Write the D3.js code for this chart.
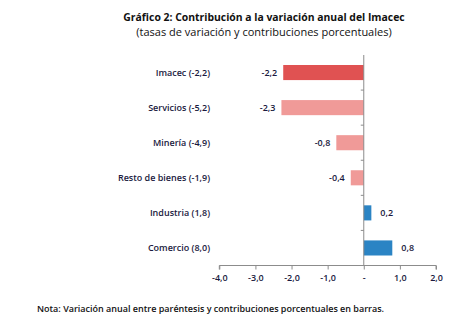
<!DOCTYPE html>
<html>
<head>
  <meta charset="UTF-8">
  <script src="https://d3js.org/d3.v7.min.js"></script>
  <style>
    body { margin: 0; background: #ffffff; }
    svg text { font-family: "Open Sans", "Liberation Sans", sans-serif; }
    .title { font-size: 10.4px; font-weight: 700; fill: #111; }
    .subtitle { font-size: 11px; fill: #111; }
    .cat { font-size: 9px; font-weight: 600; fill: #1a1a40; }
    .val { font-size: 9px; font-weight: 600; fill: #1a1a40; }
    .tick-label { font-size: 9px; font-weight: 600; fill: #1a1a40; }
    .note { font-size: 9px; font-weight: 600; fill: #111; }
  </style>
</head>
<body>
<div id="chart"></div>
<script>
  // categorias y contribuciones (puntos porcentuales)
  const categories = ["Imacec (-2,2)", "Servicios (-5,2)", "Minería (-4,9)", "Resto de bienes (-1,9)", "Industria (1,8)", "Comercio (8,0)"];
  const contributions = [-2.23, -2.28, -0.76, -0.36, 0.21, 0.79];
  const barColors = ["#e05252", "#f09a98", "#f09a98", "#f09a98", "#2b84c4", "#2b84c4"];
  const xTicks = [-4, -3, -2, -1, 0, 1, 2];

  const W = 462, H = 329;
  const svg = d3.select("#chart").append("svg").attr("width", W).attr("height", H);

  const x = d3.scaleLinear().domain([-4, 2]).range([219.3, 436]);
  const y = d3.scaleBand().domain(categories).range([55, 265.5]).paddingInner(0.57).paddingOuter(0.285);

  const fmt = v => v === 0 ? "-" : d3.format(".1f")(v).replace(".", ",").replace("−", "-");

  // titulo
  svg.append("text").attr("class", "title").attr("x", 264).attr("y", 21)
    .attr("text-anchor", "middle").text("Gráfico 2: Contribución a la variación anual del Imacec");
  svg.append("text").attr("class", "subtitle").attr("x", 264).attr("y", 36)
    .attr("text-anchor", "middle").text("(tasas de variación y contribuciones porcentuales)");

  // barras
  svg.selectAll("rect.bar").data(contributions).join("rect")
    .attr("class", "bar")
    .attr("x", d => x(Math.min(0, d)))
    .attr("width", d => Math.abs(x(d) - x(0)))
    .attr("y", (d, i) => y(categories[i]))
    .attr("height", y.bandwidth())
    .attr("fill", (d, i) => barColors[i]);

  // etiquetas de valor
  svg.selectAll("text.val").data(contributions).join("text")
    .attr("class", "val")
    .attr("x", d => d < 0 ? x(d) - 6 : x(d) + 9)
    .attr("y", (d, i) => y(categories[i]) + y.bandwidth() / 2)
    .attr("dy", "0.35em")
    .attr("text-anchor", d => d < 0 ? "end" : "start")
    .text(d => fmt(d));

  // etiquetas de categoria
  svg.selectAll("text.cat").data(categories).join("text")
    .attr("class", "cat")
    .attr("x", 210)
    .attr("y", d => y(d) + y.bandwidth() / 2)
    .attr("dy", "0.35em")
    .attr("text-anchor", "end")
    .text(d => d);

  // eje vertical en cero
  const axisColor = "#8c8c8c";
  svg.append("line").attr("x1", x(0)).attr("x2", x(0)).attr("y1", 55).attr("y2", 265.5)
    .attr("stroke", axisColor).attr("stroke-width", 1);
  const step = y.step();
  d3.range(1, categories.length).forEach(k => {
    const yy = 55 + k * step;
    svg.append("line").attr("x1", x(0) - 3).attr("x2", x(0)).attr("y1", yy).attr("y2", yy)
      .attr("stroke", axisColor);
  });

  // eje horizontal
  const xAxis = d3.axisBottom(x).tickValues(xTicks).tickSize(4).tickPadding(5).tickFormat(fmt);
  const gx = svg.append("g").attr("transform", "translate(0,265.5)").call(xAxis);
  gx.select(".domain").attr("stroke", axisColor).attr("d", `M${x(-4)},4V0H${x(2)}V4`);
  gx.selectAll(".tick line").attr("stroke", axisColor);
  gx.selectAll(".tick text").attr("class", "tick-label").attr("font-family", null).attr("font-size", null).attr("fill", null);

  // nota
  svg.append("text").attr("class", "note").attr("x", 37).attr("y", 312)
    .text("Nota: Variación anual entre paréntesis y contribuciones porcentuales en barras.");
</script>
</body>
</html>
